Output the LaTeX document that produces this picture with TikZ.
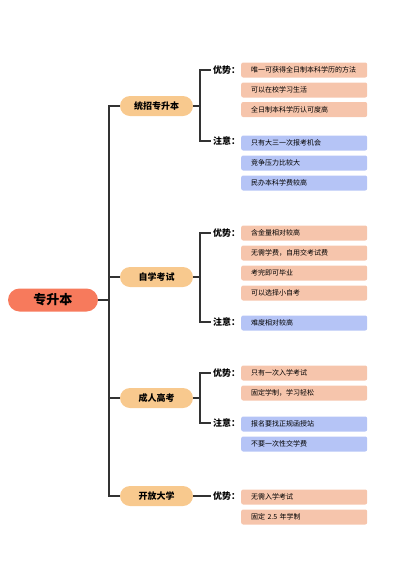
\documentclass[tikz,border=0pt]{standalone}
\usepackage{fontspec}
\setmainfont{Noto Sans CJK SC}
\usetikzlibrary{positioning}
\definecolor{rootfill}{HTML}{F77A5C}
\definecolor{topicfill}{HTML}{F8C98E}
\definecolor{profill}{HTML}{F6C5AC}
\definecolor{consfill}{HTML}{B5C4F6}
\definecolor{linec}{HTML}{333333}
\tikzset{
  rootbox/.style ={fill=rootfill, rounded corners=11.5pt, minimum width=90pt, minimum height=23pt,
                   font=\fontsize{13}{15}\selectfont\bfseries, inner sep=0pt},
  topicbox/.style={fill=topicfill, rounded corners=10pt, minimum width=73pt, minimum height=20pt,
                   font=\fontsize{9}{11}\selectfont\bfseries, inner sep=0pt},
  tag/.style     ={font=\fontsize{9}{11}\selectfont\bfseries, inner sep=2pt, anchor=west},
  probox/.style  ={fill=profill, rounded corners=2pt, anchor=west, minimum height=15pt,
                   text width=106pt, inner xsep=10pt, inner ysep=0pt, align=left,
                   font=\fontsize{7}{8}\selectfont},
  consbox/.style ={probox, fill=consfill},
  wire/.style    ={draw=linec, line width=1.1pt},
}
\begin{document}
\begin{tikzpicture}[x=1pt, y=-1pt]
\useasboundingbox (0,0) rectangle (400,566);
% root and topics
\node[rootbox] (root) at (53,300) {专升本};
\node[topicbox] (tz) at (156.5,106) {统招专升本};
\node[topicbox] (zk) at (156.5,277) {自学考试};
\node[topicbox] (ck) at (156.5,398) {成人高考};
\node[topicbox] (kd) at (156.5,496) {开放大学};
\coordinate (trunk) at (109,300);
\draw[wire] (root.east) -- (trunk);
\foreach \t in {tz,zk,ck,kd} \draw[wire] (trunk) |- (\t.west);
% 统招专升本
\node[tag] (tzA) at (211,70) {优势：};
\node[tag] (tzB) at (211,141) {注意：};
\node[probox] (tzA1) at (241,70) {唯一可获得全日制本科学历的方法};
\node[probox] (tzA2) at (241,90) {可以在校学习生活};
\node[probox] (tzA3) at (241,109.5) {全日制本科学历认可度高};
\node[consbox] (tzB1) at (241,143) {只有大三一次报考机会};
\node[consbox] (tzB2) at (241,163) {竞争压力比较大};
\node[consbox] (tzB3) at (241,183) {民办本科学费较高};
\coordinate (tzfork) at (200,106);
\draw[wire] (tz.east) -- (tzfork);
\draw[wire] (tzA.west) -| (tzfork) |- (tzB.west);
% 自学考试
\node[tag] (zkA) at (211,233) {优势：};
\node[tag] (zkB) at (211,322) {注意：};
\node[probox] (zkA1) at (241,233) {含金量相对较高};
\node[probox] (zkA2) at (241,253) {无需学费，自用交考试费};
\node[probox] (zkA3) at (241,273) {考完即可毕业};
\node[probox] (zkA4) at (241,293) {可以选择小自考};
\node[consbox] (zkB1) at (241,323) {难度相对较高};
\coordinate (zkfork) at (200,277);
\draw[wire] (zk.east) -- (zkfork);
\draw[wire] (zkA.west) -| (zkfork) |- (zkB.west);
% 成人高考
\node[tag] (ckA) at (211,373) {优势：};
\node[tag] (ckB) at (211,423) {注意：};
\node[probox] (ckA1) at (241,373) {只有一次入学考试};
\node[probox] (ckA2) at (241,393) {固定学制，学习轻松};
\node[consbox] (ckB1) at (241,424) {报名要找正规函授站};
\node[consbox] (ckB2) at (241,444) {不要一次性交学费};
\coordinate (ckfork) at (200,398);
\draw[wire] (ck.east) -- (ckfork);
\draw[wire] (ckA.west) -| (ckfork) |- (ckB.west);
% 开放大学
\node[tag] (kdA) at (211,496) {优势：};
\node[probox] (kdA1) at (241,497) {无需入学考试};
\node[probox] (kdA2) at (241,517) {固定 2.5 年学制};
\draw[wire] (kd.east) -- (kdA.west);
\end{tikzpicture}
\end{document}
